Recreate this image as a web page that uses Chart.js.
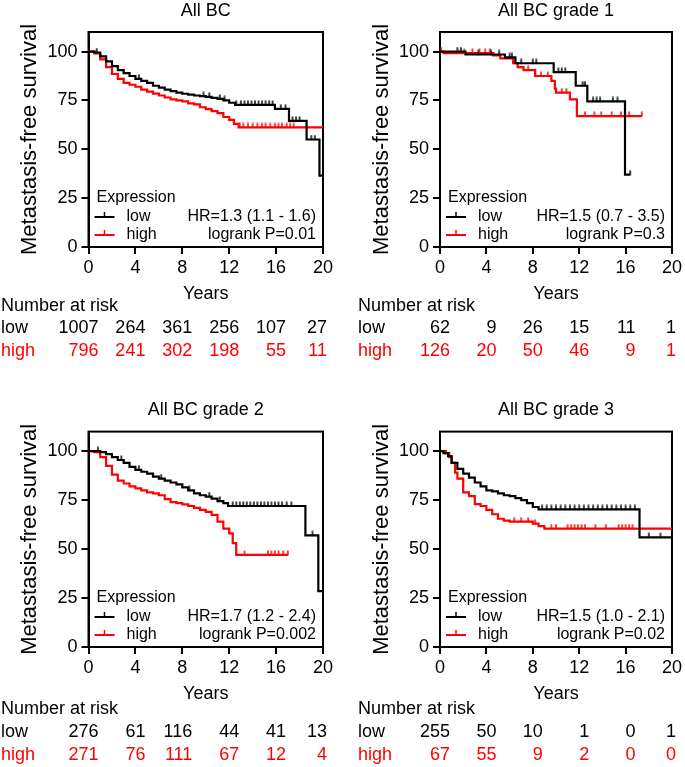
<!DOCTYPE html>
<html><head><meta charset="utf-8">
<script src="https://cdn.jsdelivr.net/npm/chart.js@4.4.0/dist/chart.umd.min.js"></script>
<style>
html,body{margin:0;padding:0;background:#fff;}
body{width:685px;height:767px;position:relative;overflow:hidden;}
canvas{position:absolute;}
</style></head><body>
<canvas id="c1" width="342" height="380" style="left:0;top:0"></canvas>
<canvas id="c2" width="343" height="380" style="left:342px;top:0"></canvas>
<canvas id="c3" width="342" height="387" style="left:0;top:380px"></canvas>
<canvas id="c4" width="343" height="387" style="left:342px;top:380px"></canvas>
<script>
// ---------- data ----------
const panelTitles = ['All BC', 'All BC grade 1', 'All BC grade 2', 'All BC grade 3'];
const xTicks = [0, 4, 8, 12, 16, 20];
const yTicks = [0, 25, 50, 75, 100];
const seriesNames = ['low', 'high'];
const yTitle = 'Metastasis-free survival';
const xTitle = 'Years';

// All BC
const lowT1 = [0, 0.5, 1, 1.5, 2, 2.5, 3, 3.5, 4, 4.5, 5, 5.5, 6, 6.5, 7, 7.5, 8, 8.5, 9, 9.5, 10, 10.5, 11, 11.5, 12, 12.5, 15.9, 17.1, 18.6, 19.7, 20];
const lowS1 = [100, 99.5, 97.5, 95, 92.5, 90.5, 89, 87.5, 86, 85, 84, 82.5, 81.5, 80.5, 79.8, 79, 78.4, 78, 77.5, 77.2, 76.8, 76.3, 75.8, 75, 73.8, 72.7, 70.7, 64.5, 55, 36.5, 36.5];
const lowC1 = [0.7, 4.3, 9.8, 10.3, 11.2, 11.6, 12.6, 13, 13.3, 13.6, 13.9, 14.2, 14.5, 14.8, 15.1, 15.4, 15.7, 16.4, 16.8, 17.4, 17.7, 18.0, 19.0, 19.3];
const highT1 = [0, 0.5, 1, 1.5, 2, 2.5, 3, 3.5, 4, 4.5, 5, 5.5, 6, 6.5, 7, 7.5, 8, 8.5, 9, 9.5, 10, 10.5, 11, 11.5, 12, 12.4, 12.8, 20];
const highS1 = [100, 99, 96, 92, 88.5, 86, 84, 83, 82, 80.5, 79.5, 78.5, 77.5, 76.5, 75.5, 75, 74.5, 73.5, 73, 71.5, 70.5, 69.5, 68.5, 66.5, 65, 63, 61.2, 61.2];
const highC1 = [12.9, 13.2, 13.6, 14.0, 14.4, 14.8, 15.1, 15.5, 15.9, 16.2, 16.5, 16.9, 17.2, 17.5];
const riskLow1 = [1007, 264, 361, 256, 107, 27];
const riskHigh1 = [796, 241, 302, 198, 55, 11];
const hr1 = 'HR=1.3 (1.1 - 1.6)';
const p1 = 'logrank P=0.01';

// grade 1
const lowT2 = [0, 2.2, 5.6, 6.5, 9.8, 11.7, 12.7, 15.95, 16.4];
const lowS2 = [100, 98.5, 97, 94, 89.5, 82.5, 74.5, 37, 37];
const lowC2 = [1.5, 1.8, 3.3, 4.4, 5.1, 6.0, 6.2, 7.0, 8.0, 8.3, 10.2, 10.5, 10.8, 12.3, 12.5, 13.2, 13.5, 13.8, 14.9, 15.3, 16.4];
const highT2 = [0, 0.3, 4.6, 5.2, 6.3, 6.7, 7.2, 8.2, 9.6, 9.9, 10, 11.2, 11.8, 17.4];
const highS2 = [100, 99.2, 98, 96.5, 94, 92, 90.5, 87.5, 85, 81, 79, 75.5, 67, 67];
const highC2 = [0.1, 2.1, 2.8, 3.4, 3.9, 4.3, 6.7, 7.6, 8.2, 8.7, 9.3, 10.5, 10.9, 12.5, 13.3, 13.9, 14.8, 15.6, 16.3, 17.4];
const riskLow2 = [62, 9, 26, 15, 11, 1];
const riskHigh2 = [126, 20, 50, 46, 9, 1];
const hr2 = 'HR=1.5 (0.7 - 3.5)';
const p2 = 'logrank P=0.3';

// grade 2
const lowT3 = [0, 0.5, 1, 1.5, 2, 2.5, 3, 3.5, 4, 4.5, 5, 5.5, 6, 6.5, 7, 7.5, 8, 8.5, 9, 9.5, 10, 10.5, 11, 11.5, 11.9, 18.5, 19.6, 20];
const lowS3 = [100, 100, 99.5, 98.5, 97, 95.5, 94, 92, 90.5, 89.5, 88.5, 87, 86, 85, 84, 83, 81.5, 80, 78.5, 77.5, 76.8, 75.8, 74.5, 73.5, 72, 57, 28.5, 28.5];
const lowC3 = [0.8, 2.8, 4.3, 6.2, 8.6, 10.3, 11.2, 12.3, 12.6, 12.9, 13.2, 13.5, 13.8, 14.1, 14.4, 14.7, 15.0, 15.3, 15.6, 15.9, 16.2, 16.5, 16.9, 17.3, 19.1];
const highT3 = [0, 0.5, 1, 1.5, 2, 2.5, 3, 3.5, 4, 4.5, 5, 5.5, 6, 6.5, 7, 7.5, 8, 8.5, 9, 9.5, 10, 10.5, 11, 11.5, 12, 12.3, 12.6, 17];
const highS3 = [100, 99.5, 97, 92.5, 88, 85, 83.5, 82, 81, 80, 79, 78.5, 77.5, 75.5, 74, 73.5, 72.8, 72, 71, 70, 69, 67.5, 64, 60.5, 58, 53, 47, 47];
const highC3 = [13.3, 15.3, 15.6, 15.9, 16.2, 16.6, 17.0];
const riskLow3 = [276, 61, 116, 44, 41, 13];
const riskHigh3 = [271, 76, 111, 67, 12, 4];
const hr3 = 'HR=1.7 (1.2 - 2.4)';
const p3 = 'logrank P=0.002';

// grade 3
const lowT4 = [0, 0.3, 0.7, 1, 1.5, 2, 2.5, 3, 3.5, 4, 4.5, 5, 5.5, 6, 6.5, 7, 7.5, 8, 8.5, 17.2, 20];
const lowS4 = [100, 99, 97.5, 94, 91, 88.5, 86.5, 84, 82, 80, 79.5, 78.5, 77.5, 77, 76, 75, 73.5, 71.5, 70.3, 56, 56];
const lowC4 = [8.8, 9.2, 9.6, 10.0, 10.4, 10.8, 11.2, 11.6, 12.0, 12.4, 12.8, 13.2, 13.6, 14.0, 14.4, 14.8, 15.2, 15.6, 16.0, 16.4, 16.8, 18.0, 19.0];
const highT4 = [0, 0.5, 0.8, 1, 1.3, 1.5, 2, 2.5, 3, 3.5, 4, 4.5, 5, 5.5, 6, 8, 8.5, 9, 20];
const highS4 = [100, 99, 97, 94, 89, 86, 79, 77, 73, 72, 70, 67.8, 65.5, 64.5, 64, 63, 61.7, 60.5, 60.5];
const highC4 = [6.4, 7.0, 7.6, 8.2, 9.6, 10.0, 11.0, 11.3, 11.6, 11.9, 12.2, 12.5, 13.4, 14.3, 15.4, 15.7, 16.0, 16.3, 16.6];
const riskLow4 = [255, 50, 10, 1, 0, 1];
const riskHigh4 = [67, 55, 9, 2, 0, 0];
const hr4 = 'HR=1.5 (1.0 - 2.1)';
const p4 = 'logrank P=0.02';

// ---------- rendering ----------
const FONT = '"Liberation Sans", Arial, Helvetica, sans-serif';
Chart.defaults.font.family = FONT;
Chart.defaults.color = '#000';
const LOWC = '#000000', HIGHC = '#ff0000';

function stepAt(T, S, t) {
  let v = S[0];
  for (let i = 0; i < T.length; i++) { if (T[i] <= t) v = S[i]; else break; }
  return v;
}
function tickImg(color) {
  const c = document.createElement('canvas');
  c.width = 4; c.height = 10;
  const g = c.getContext('2d');
  g.strokeStyle = color; g.lineWidth = 1.5;
  g.beginPath(); g.moveTo(2, 0.5); g.lineTo(2, 5.5); g.stroke();
  return c;
}
const tickLow = tickImg(LOWC), tickHigh = tickImg(HIGHC);

const framePlugin = {
  id: 'frame',
  beforeDatasetsDraw(chart) {
    const {ctx, chartArea: a} = chart;
    ctx.save();
    ctx.strokeStyle = '#000'; ctx.lineWidth = 2;
    ctx.strokeRect(a.left, a.top, a.right - a.left, a.bottom - a.top);
    ctx.restore();
  }
};

const kmTextPlugin = {
  id: 'kmText',
  afterDraw(chart, args, o) {
    const {ctx, chartArea: a} = chart;
    const xs = chart.scales.x;
    ctx.save();
    ctx.font = '16px ' + FONT;
    ctx.textBaseline = 'middle';
    ctx.textAlign = 'left';
    ctx.fillStyle = '#000';
    ctx.fillText('Expression', a.left + 8, a.bottom - 49);
    const rows = [[seriesNames[0], LOWC, a.bottom - 30], [seriesNames[1], HIGHC, a.bottom - 12]];
    rows.forEach(([name, col, y]) => {
      ctx.strokeStyle = col; ctx.lineWidth = 2;
      ctx.beginPath(); ctx.moveTo(a.left + 6, y); ctx.lineTo(a.left + 26, y); ctx.stroke();
      ctx.lineWidth = 1.5;
      ctx.beginPath(); ctx.moveTo(a.left + 16, y); ctx.lineTo(a.left + 16, y - 5); ctx.stroke();
      ctx.fillStyle = '#000';
      ctx.fillText(name, a.left + 38, y);
    });
    ctx.textAlign = 'right';
    ctx.fillText(o.hr, a.right - 7, a.bottom - 30);
    ctx.fillText(o.p, a.right - 7, a.bottom - 12);
    ctx.font = '18px ' + FONT;
    ctx.textAlign = 'left';
    ctx.fillStyle = '#000';
    ctx.fillText('Number at risk', o.tableX, a.bottom + o.rows[0]);
    ctx.fillText(seriesNames[0], o.tableX, a.bottom + o.rows[1]);
    ctx.fillStyle = HIGHC;
    ctx.fillText(seriesNames[1], o.tableX, a.bottom + o.rows[2]);
    ctx.textAlign = 'right';
    const last = xTicks.length - 1;
    xTicks.forEach((t, i) => {
      const x = xs.getPixelForValue(t) + (i === last ? 4 : 10);
      ctx.fillStyle = LOWC;
      ctx.fillText(String(o.riskLow[i]), x, a.bottom + o.rows[1]);
      ctx.fillStyle = HIGHC;
      ctx.fillText(String(o.riskHigh[i]), x, a.bottom + o.rows[2]);
    });
    ctx.restore();
  }
};

function buildPanel(id, title, d, L) {
  const datasets = [
    {data: d.lowT.map((t, i) => ({x: t, y: d.lowS[i]})), borderColor: LOWC, borderWidth: 2.2, stepped: 'before', pointRadius: 0, fill: false},
    {data: d.lowC.map(t => ({x: t, y: stepAt(d.lowT, d.lowS, t)})), showLine: false, pointStyle: tickLow, pointRadius: 3, borderColor: LOWC},
    {data: d.highT.map((t, i) => ({x: t, y: d.highS[i]})), borderColor: HIGHC, borderWidth: 2.2, stepped: 'before', pointRadius: 0, fill: false},
    {data: d.highC.map(t => ({x: t, y: stepAt(d.highT, d.highS, t)})), showLine: false, pointStyle: tickHigh, pointRadius: 3, borderColor: HIGHC}
  ];
  const axisGrid = {drawOnChartArea: false, drawTicks: true, tickLength: 7, color: '#000', lineWidth: 2};
  new Chart(document.getElementById(id), {
    type: 'line',
    data: {datasets},
    plugins: [framePlugin, kmTextPlugin],
    options: {
      responsive: false, animation: false, devicePixelRatio: 1,
      layout: {padding: {left: L.padL, right: L.padR, top: 0, bottom: L.padB}},
      plugins: {
        legend: {display: false}, tooltip: {enabled: false},
        title: {display: true, text: title, fullSize: false, color: '#000', font: {size: 18, weight: 'normal'}, padding: {top: L.titleTop, bottom: 10.4}},
        kmText: {hr: d.hr, p: d.p, riskLow: d.riskLow, riskHigh: d.riskHigh, tableX: L.tableX, rows: L.rows}
      },
      scales: {
        x: {
          type: 'linear', min: 0, max: 20,
          afterBuildTicks: s => { s.ticks = xTicks.map(v => ({value: v})); },
          afterFit: s => { s.height = 58; },
          grid: axisGrid, border: {display: true, color: '#000', width: 2},
          ticks: {font: {size: 18}, color: '#000', padding: 3, maxRotation: 0},
          title: {display: true, text: xTitle, font: {size: 18}, color: '#000', padding: {top: 0, bottom: 0}}
        },
        y: {
          type: 'linear', min: 0, max: 110,
          afterBuildTicks: s => { s.ticks = yTicks.map(v => ({value: v})); },
          afterFit: s => { s.width = 88.5; },
          grid: axisGrid, border: {display: true, color: '#000', width: 2},
          ticks: {font: {size: 18}, color: '#000', padding: 4},
          title: {display: true, text: yTitle, font: {size: 22}, color: '#000', padding: {top: 17, bottom: 0}}
        }
      }
    }
  });
}

const topRows = [59, 81.5, 104.5], botRows = [62, 85, 108];
buildPanel('c1', panelTitles[0],
  {lowT: lowT1, lowS: lowS1, lowC: lowC1, highT: highT1, highS: highS1, highC: highC1, riskLow: riskLow1, riskHigh: riskHigh1, hr: hr1, p: p1},
  {padL: 0, padR: 19, padB: 75, titleTop: 0, tableX: 1, rows: topRows});
buildPanel('c2', panelTitles[1],
  {lowT: lowT2, lowS: lowS2, lowC: lowC2, highT: highT2, highS: highS2, highC: highC2, riskLow: riskLow2, riskHigh: riskHigh2, hr: hr2, p: p2},
  {padL: 9.5, padR: 12, padB: 75, titleTop: 0, tableX: 16, rows: topRows});
buildPanel('c3', panelTitles[2],
  {lowT: lowT3, lowS: lowS3, lowC: lowC3, highT: highT3, highS: highS3, highC: highC3, riskLow: riskLow3, riskHigh: riskHigh3, hr: hr3, p: p3},
  {padL: 0, padR: 19, padB: 62, titleTop: 19.6, tableX: 1, rows: botRows});
buildPanel('c4', panelTitles[3],
  {lowT: lowT4, lowS: lowS4, lowC: lowC4, highT: highT4, highS: highS4, highC: highC4, riskLow: riskLow4, riskHigh: riskHigh4, hr: hr4, p: p4},
  {padL: 9.5, padR: 12, padB: 62, titleTop: 19.6, tableX: 16, rows: botRows});
</script>
</body></html>
